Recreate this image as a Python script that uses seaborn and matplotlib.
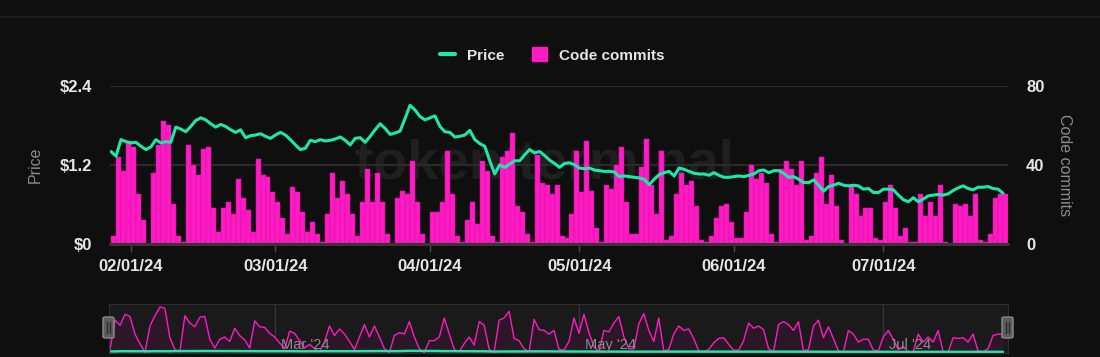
import pandas as pd
import matplotlib
matplotlib.use("Agg")
import matplotlib.pyplot as plt
import matplotlib.dates as mdates
from matplotlib.lines import Line2D
from matplotlib.patches import Rectangle, FancyBboxPatch
import seaborn as sns

# ---------------------------------------------------------------------------
# Data (one value per day)
# ---------------------------------------------------------------------------
start_date = "2024-01-28"

code_commits = [
    4, 44, 37, 52, 49, 25, 12, 0, 36, 50, 62, 60, 20, 4, 1, 50, 40, 35, 48, 49,
    18, 6, 18, 21, 15, 33, 23, 17, 6, 43, 35, 34, 26, 21, 13, 5, 29, 26, 16, 6,
    11, 5, 1, 15, 36, 23, 32, 25, 15, 4, 21, 38, 21, 36, 21, 5, 0, 23, 27, 25,
    42, 21, 5, 0, 16, 16, 21, 47, 25, 4, 1, 12, 21, 10, 42, 37, 4, 1, 44, 47,
    56, 19, 16, 5, 1, 45, 31, 30, 25, 30, 4, 3, 15, 47, 26, 52, 27, 8, 1, 30,
    28, 40, 49, 21, 5, 5, 39, 53, 30, 15, 47, 2, 4, 25, 36, 30, 32, 19, 2, 1,
    4, 13, 19, 20, 11, 3, 3, 16, 40, 33, 36, 31, 5, 1, 38, 42, 38, 30, 42, 2,
    4, 36, 44, 20, 35, 19, 2, 0, 30, 25, 14, 18, 18, 3, 2, 21, 30, 18, 4, 8,
    1, 1, 25, 14, 21, 14, 30, 1, 0, 20, 19, 20, 14, 25, 2, 1, 5, 23, 25, 25,
]

price_usd = [
    1.40, 1.33, 1.58, 1.55, 1.53, 1.54, 1.48, 1.43, 1.47, 1.58,
    1.53, 1.55, 1.54, 1.77, 1.74, 1.70, 1.78, 1.87, 1.91, 1.88,
    1.82, 1.77, 1.81, 1.78, 1.73, 1.69, 1.73, 1.61, 1.64, 1.65,
    1.67, 1.63, 1.60, 1.65, 1.69, 1.65, 1.58, 1.50, 1.43, 1.45,
    1.57, 1.55, 1.58, 1.56, 1.57, 1.59, 1.62, 1.57, 1.50, 1.60,
    1.61, 1.54, 1.63, 1.73, 1.82, 1.75, 1.66, 1.68, 1.71, 1.90,
    2.10, 2.03, 1.93, 1.88, 1.91, 1.94, 1.78, 1.70, 1.69, 1.62,
    1.63, 1.65, 1.72, 1.58, 1.52, 1.48, 1.26, 1.06, 1.20, 1.16,
    1.21, 1.26, 1.26, 1.35, 1.43, 1.38, 1.40, 1.34, 1.27, 1.22,
    1.16, 1.22, 1.23, 1.20, 1.15, 1.14, 1.15, 1.12, 1.11, 1.10,
    1.10, 1.09, 1.02, 1.03, 1.02, 1.01, 1.00, 0.98, 0.90, 0.98,
    1.05, 1.08, 1.10, 1.03, 1.15, 1.13, 1.10, 1.07, 1.06, 1.06,
    1.04, 1.08, 1.04, 1.01, 1.01, 1.02, 1.03, 1.02, 1.04, 1.06,
    1.11, 1.12, 1.08, 1.11, 1.11, 1.07, 1.01, 1.02, 0.98, 0.93,
    0.93, 0.97, 0.89, 0.80, 0.87, 0.89, 0.92, 0.89, 0.88, 0.89,
    0.88, 0.83, 0.84, 0.78, 0.78, 0.83, 0.83, 0.82, 0.74, 0.67,
    0.64, 0.70, 0.64, 0.68, 0.73, 0.74, 0.75, 0.74, 0.76, 0.81,
    0.85, 0.88, 0.84, 0.82, 0.86, 0.86, 0.87, 0.84, 0.83, 0.77,
]

price_ticks = [0, 1.2, 2.4]
price_labels = ["$0", "$1.2", "$2.4"]
commit_ticks = [0, 40, 80]
nav_ticks = ["2024-03-01", "2024-05-01", "2024-07-01"]
nav_labels = ["Mar '24", "May '24", "Jul '24"]

# ---------------------------------------------------------------------------
# Style
# ---------------------------------------------------------------------------
BG = "#0f0f0f"
PINK = "#ff1ac4"
GREEN = "#1ee8a5"
GRID = "#2a2a2a"
TEXT = "#e6e6e6"
MUTED = "#8c8c8c"

sns.set_style("dark", {"axes.facecolor": BG, "figure.facecolor": BG})
plt.rcParams["font.family"] = ["Liberation Sans", "DejaVu Sans"]

W, H = 1100, 357


def fx(px):
    return px / W


def fy(py):
    return 1 - py / H


dates = pd.date_range(start_date, periods=len(code_commits), freq="D")
df = pd.DataFrame({"date": dates, "commits": code_commits, "price": price_usd})
xmin = dates[0] - pd.Timedelta(hours=5)
xmax = dates[-1] + pd.Timedelta(days=1)

fig = plt.figure(figsize=(W / 100, H / 100), dpi=100, facecolor=BG)

# top separator line of the card
fig.add_artist(Line2D([0, 1], [fy(17), fy(17)], color="#1e1e1e", lw=1.5,
                      transform=fig.transFigure))

# ---------------------------------------------------------------------------
# Main chart: commits bars (right axis) + price line (left axis)
# ---------------------------------------------------------------------------
ax_c = fig.add_axes([fx(110), fy(244), fx(898), (244 - 85.5) / H])
ax_c.set_facecolor(BG)
ax_p = ax_c.twinx()

ax_c.text(0.484, 0.5, "token terminal", transform=ax_c.transAxes,
          ha="center", va="center", fontsize=40, fontweight="bold",
          color="#1f1f1f", zorder=0)

ax_c.bar(df["date"], df["commits"], width=1.0, align="edge", color=PINK,
         edgecolor="#d2149f", linewidth=0.35, zorder=2)
ax_c.set_ylim(0, 80)
ax_c.set_yticks(commit_ticks)
ax_c.yaxis.tick_right()
ax_c.yaxis.set_label_position("right")
ax_c.set_ylabel("Code commits", rotation=270, color=MUTED, fontsize=11.5,
                labelpad=9, va="bottom")
ax_c.grid(axis="y", color=GRID, lw=1.6)
ax_c.grid(axis="x", visible=False)
ax_c.set_axisbelow(True)
ax_c.axhline(0, color="#363636", lw=2.2, zorder=3, clip_on=False)

ax_c.set_xlim(xmin, xmax)
ax_c.xaxis.set_major_locator(mdates.MonthLocator())
ax_c.xaxis.set_major_formatter(mdates.DateFormatter("%m/%d/%y"))
ax_c.tick_params(axis="x", length=6, width=1, color="#4a4a4a", pad=5,
                 labelsize=12, labelcolor=TEXT, bottom=True)
ax_c.tick_params(axis="y", length=0, pad=13, labelsize=12, labelcolor=TEXT)
ax_c.set_xlabel("")

sns.lineplot(data=df, x="date", y="price", ax=ax_p, color=GREEN, lw=2.2,
             zorder=5)
ax_p.set_ylim(0, 2.4)
ax_p.set_yticks(price_ticks)
ax_p.set_yticklabels(price_labels)
ax_p.yaxis.tick_left()
ax_p.yaxis.set_label_position("left")
ax_p.set_ylabel("Price", color=MUTED, fontsize=11.5, labelpad=12)
ax_p.tick_params(axis="y", length=0, pad=13, labelsize=12, labelcolor=TEXT)
ax_p.grid(False)
ax_p.set_xlim(xmin, xmax)

for ax in (ax_c, ax_p):
    for s in ax.spines.values():
        s.set_visible(False)
    for lbl in ax.get_xticklabels() + ax.get_yticklabels():
        lbl.set_fontweight("bold")

# legend
handles = [Line2D([0], [0], color=GREEN, lw=3),
           Rectangle((0, 0), 1, 1, facecolor=PINK, edgecolor=PINK)]
fig.legend(handles, ["Price", "Code commits"], loc="center",
           bbox_to_anchor=(0.502, fy(55)), ncol=2, frameon=False,
           handlelength=1.0, handleheight=1.0, handletextpad=0.8,
           columnspacing=1.8, labelcolor=TEXT,
           prop={"weight": "bold", "size": 11})

# ---------------------------------------------------------------------------
# Navigator strip
# ---------------------------------------------------------------------------
ax_n = fig.add_axes([fx(109), fy(353), fx(899), 49 / H])
ax_n.set_facecolor("#1a1a1a")
ax_n.fill_between(df["date"], df["commits"], color="#2b1727", lw=0)
sns.lineplot(data=df, x="date", y="commits", ax=ax_n, color=PINK, lw=1)
sns.lineplot(data=df, x="date", y="price", ax=ax_n, color=GREEN, lw=1.8)
ax_n.set_xlim(xmin, xmax)
ax_n.set_ylim(-0.8, 66)
ax_n.set_xticks([])
ax_n.set_yticks([])
ax_n.set_xlabel("")
ax_n.set_ylabel("")
ax_n.grid(False)
for s in ax_n.spines.values():
    s.set_color("#2e2e2e")
for d, lab in zip(nav_ticks, nav_labels):
    t = pd.Timestamp(d)
    ax_n.axvline(t, color="#363636", lw=1, zorder=0)
    ax_n.text(t + pd.Timedelta(days=1.2), 0.16, lab,
              transform=ax_n.get_xaxis_transform(), color=MUTED,
              fontsize=10.5, va="center", ha="left")

# navigator handles
for x0 in (103, 1002):
    fig.add_artist(FancyBboxPatch((fx(x0), fy(338)), fx(11), 21 / H,
                                  boxstyle="round,pad=0,rounding_size=0.003",
                                  facecolor="#5c5c5c", edgecolor="#8a8a8a",
                                  lw=1, transform=fig.transFigure))
    for dx in (4, 7):
        fig.add_artist(Line2D([fx(x0 + dx), fx(x0 + dx)], [fy(333), fy(322)],
                              color="#2a2a2a", lw=1,
                              transform=fig.transFigure))

fig.savefig("out.png", dpi=100, facecolor=BG)
